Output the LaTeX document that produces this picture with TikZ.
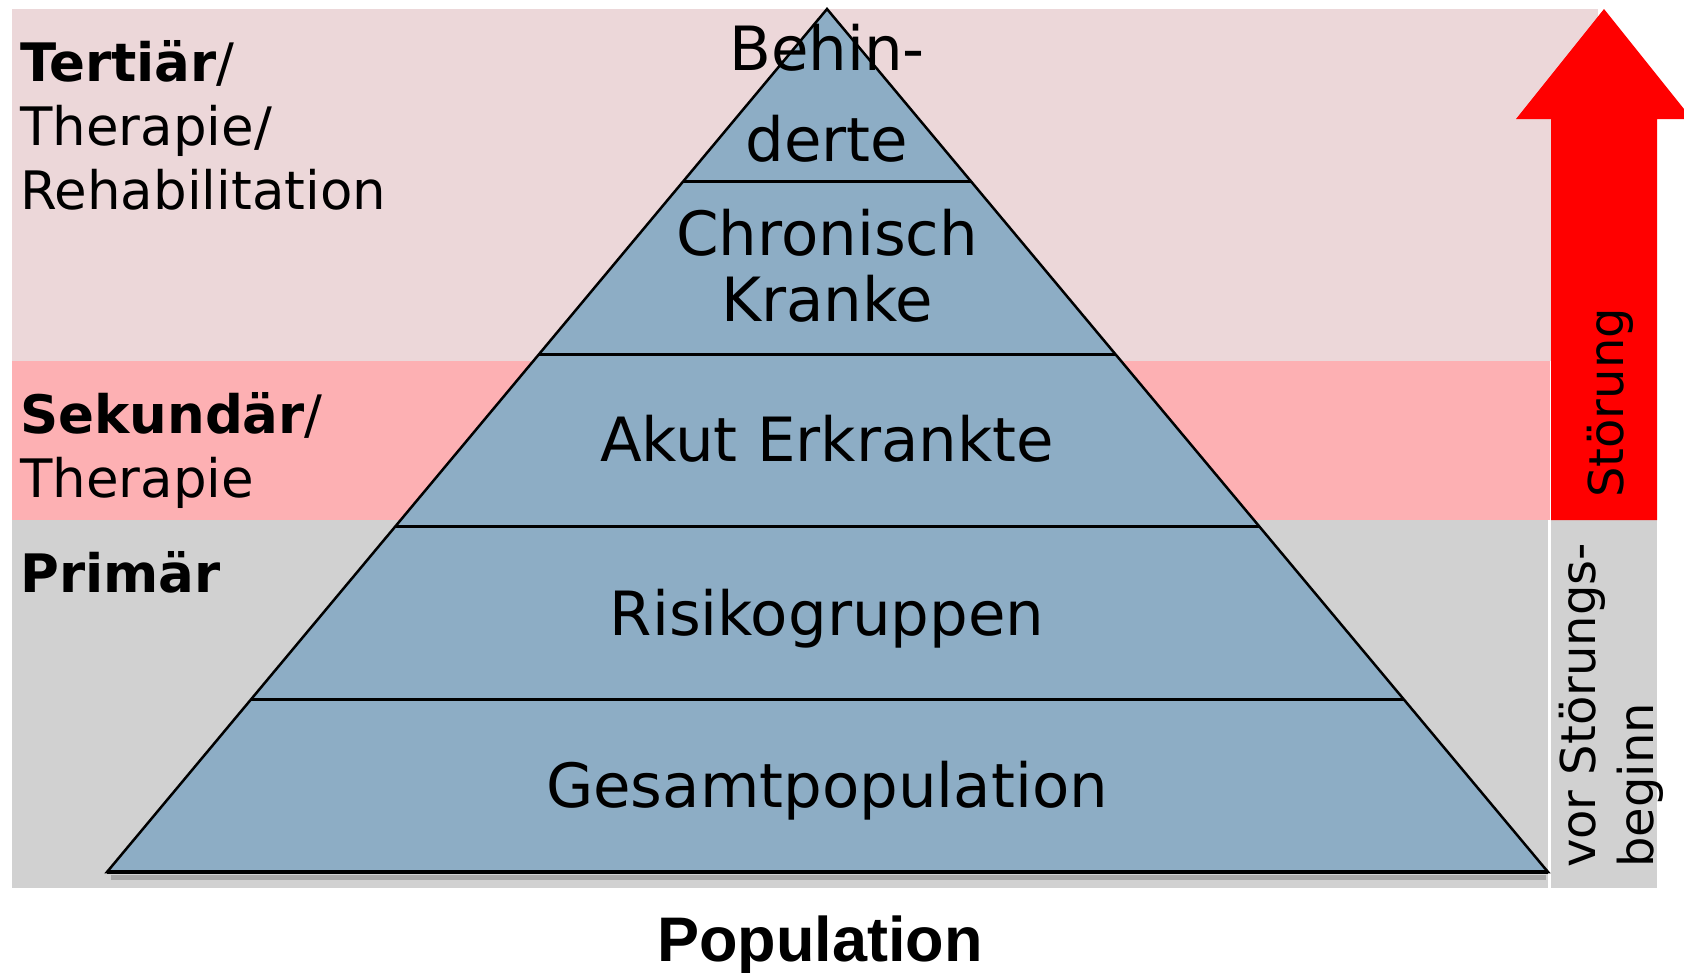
\documentclass[tikz,border=0pt]{standalone}
\usepackage{fontspec}
\usepackage{tikz}
\usetikzlibrary{calc}
\setmainfont{DejaVu Sans}
\newfontfamily\popfont{Liberation Sans}
\definecolor{tertpink}{RGB}{236,215,217}
\definecolor{sekpink}{RGB}{253,176,179}
\definecolor{primgray}{RGB}{209,209,209}
\definecolor{pyrblue}{RGB}{141,173,197}

\begin{document}
\begin{tikzpicture}[x=1pt,y=-1pt,
        level/.style={font=\fontsize{61}{72}\selectfont, inner sep=0pt, anchor=base},
        side/.style={font=\fontsize{53}{64}\selectfont, inner sep=0pt, anchor=base west, align=left},
        vert/.style={font=\fontsize{48}{58}\selectfont, inner sep=0pt, anchor=base west, rotate=90}]
        \useasboundingbox (0,0) rectangle (1684,972);
        \clip (0,0) rectangle (1684,972);

        % Prevention bands
        \fill[tertpink] (12,9) rectangle (1598,361);
        \fill[sekpink] (12,361) rectangle (1550,520);
        \fill[primgray] (12,520) rectangle (1548,888);
        \fill[primgray] (1551,520) rectangle (1657,888);

        % Arrow up to Störung
        \fill[red] (1551,520) -- (1551,119) -- (1516,119) -- (1604,9)
            -- (1692,119) -- (1657,119) -- (1657,520) -- cycle;

        % Pyramid with five levels
        \coordinate (top) at (827,9);
        \coordinate (bl) at (107,872);
        \coordinate (br) at (1548,872);
        \draw[gray, opacity=0.5, line width=5pt] ($(bl)+(4,5)$) -- ($(br)+(-2,5)$);
        \draw[fill=pyrblue, line width=2.5pt] (top) -- (br) -- (bl) -- cycle;
        \foreach \k in {1,...,4}
            \draw[line width=3.2pt] ($(top)!\k/5!(bl)$) -- ($(top)!\k/5!(br)$);
        \draw[line width=4pt] (bl) -- (br);

        % Level labels
        \node[level] (behin) at (827,70) {Behin-};
        \node[level] (derte) at (827,161) {derte};
        \node[level] (chron) at (827,255) {Chronisch};
        \node[level] (kranke) at (827,321) {Kranke};
        \node[level] (akut) at (827,461) {Akut Erkrankte};
        \node[level] (risiko) at (827,635) {Risikogruppen};
        \node[level] (gesamt) at (827,807) {Gesamtpopulation};

        % Prevention labels (anchored at the last line)
        \node[side] (tert) at (20,209) {\textbf{Tertiär}/\\Therapie/\\Rehabilitation};
        \node[side] (sek) at (20,497) {\textbf{Sekundär}/\\Therapie};
        \node[side] (prim) at (20,592) {\textbf{Primär}};

        % Vertical labels
        \node[vert] (stoer) at (1623,498) {Störung};
        \node[vert] (vor) at (1595,868) {vor Störungs-};
        \node[vert] (beginn) at (1653,868) {beginn};

        \node[font=\popfont\bfseries\fontsize{63}{76}\selectfont, inner sep=0pt, anchor=base] (pop) at (820,961) {Population};
    \end{tikzpicture}
\end{document}
